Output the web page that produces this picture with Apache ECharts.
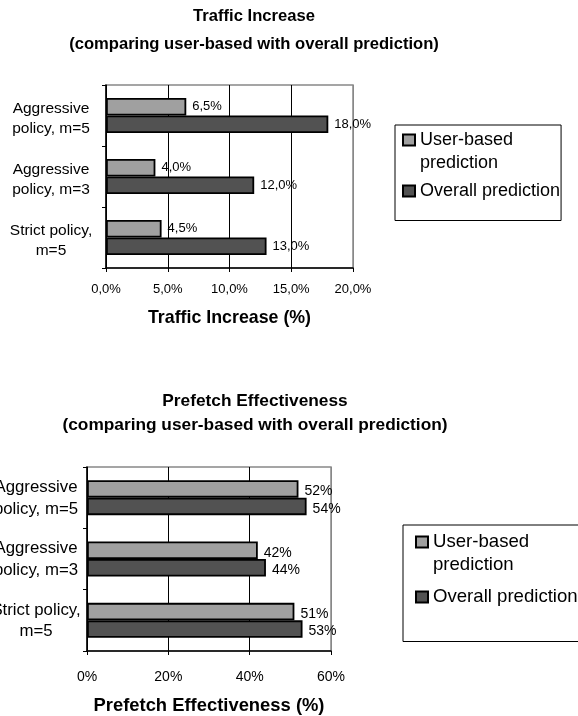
<!DOCTYPE html>
<html>
<head>
<meta charset="utf-8">
<script src="https://cdn.jsdelivr.net/npm/echarts@6/dist/echarts.min.js"></script>
<style>
html, body { margin: 0; background: #fff; }
#chart { width: 578px; height: 716px; }
</style>
</head>
<body>
<div id="chart"></div>
<script>
const categories = ['Aggressive\npolicy, m=5', 'Aggressive\npolicy, m=3', 'Strict policy,\nm=5']
const userName = 'User-based prediction'
const overallName = 'Overall prediction'

// traffic increase (%)
const trafficUser = [6.5, 4.0, 4.5]
const trafficOverall = [18.0, 12.0, 13.0]
// prefetch effectiveness (%)
const prefetchUser = [52, 42, 51]
const prefetchOverall = [54, 44, 53]

const trafficAxis = { min: 0, max: 20, interval: 5 }
const prefetchAxis = { min: 0, max: 60, interval: 20 }

const font = 'Liberation Sans, Arial, sans-serif'
const lightGray = '#a0a0a0'
const darkGray = '#525252'

const commaPct = v => v.toFixed(1).replace('.', ',') + '%'
const intPct = v => v + '%'

function valueAxis(grid, range, fmt, name, nameGap, labelSize, nameSize, splitColors, labelMargin) {
	return {
		type: 'value',
		gridIndex: grid,
		min: range.min,
		max: range.max,
		interval: range.interval,
		name: name,
		nameLocation: 'middle',
		nameGap: nameGap,
		nameTextStyle: { fontFamily: font, fontSize: nameSize, fontWeight: 'bold', color: '#000' },
		axisLine: { show: true, lineStyle: { color: '#000', width: 1.5 } },
		axisTick: { show: true, length: 4, lineStyle: { color: '#000' } },
		axisLabel: { formatter: fmt, fontFamily: font, fontSize: labelSize, color: '#000', margin: labelMargin },
		splitLine: { show: true, lineStyle: { color: splitColors, width: 1 } }
	}
}

// a thin spacer line on top nudges the two-line labels down a little
function catAxis(grid, labelSize, lineHeight, margin, shift) {
	return {
		type: 'category',
		gridIndex: grid,
		data: categories,
		inverse: true,
		axisLine: { show: true, lineStyle: { color: '#000', width: 1.5 } },
		axisTick: { show: true, length: 4, lineStyle: { color: '#000' } },
		axisLabel: {
			color: '#000', align: 'center', margin: margin,
			formatter: v => '{s| }\n' + v.split('\n').map(l => '{a|' + l + '}').join('\n'),
			rich: {
				s: { fontSize: 1, lineHeight: shift * 2 },
				a: { fontFamily: font, fontSize: labelSize, lineHeight: lineHeight, color: '#000', align: 'center' }
			}
		}
	}
}

function barSeries(name, data, axisIdx, color, fmt, labelSize, offset) {
	return {
		type: 'bar',
		name: name,
		xAxisIndex: axisIdx,
		yAxisIndex: axisIdx,
		data: data,
		barWidth: 17.5,
		barGap: 0,
		itemStyle: { color: color, borderColor: '#000', borderWidth: 1.8 },
		label: {
			show: true,
			position: 'right',
			distance: 6,
			offset: offset,
			formatter: p => fmt(p.value),
			fontFamily: font,
			fontSize: labelSize,
			color: '#000'
		}
	}
}

// leading blank line keeps the icon level with "User-based"
function legend(left, top, padding, fontSize, lineHeight, gap) {
	return {
		orient: 'vertical',
		left: left,
		top: top,
		padding: padding,
		itemWidth: 12,
		itemHeight: 11,
		itemGap: gap,
		borderColor: '#000',
		borderWidth: 1,
		icon: 'rect',
		selectedMode: false,
		formatter: n => n === userName ? '\nUser-based\nprediction' : n,
		textStyle: { fontFamily: font, fontSize: fontSize, lineHeight: lineHeight, color: '#000' },
		data: [userName, overallName]
	}
}

const chart = echarts.init(document.getElementById('chart'))

chart.setOption({
	backgroundColor: '#fff',
	animation: false,
	title: [
		{
			text: 'Traffic Increase\n(comparing user-based with overall prediction)',
			left: 254,
			top: 2,
			textAlign: 'center',
			padding: 0,
			textStyle: { fontFamily: font, fontSize: 16.6, fontWeight: 'bold', lineHeight: 28, color: '#000' }
		},
		{
			text: 'Prefetch Effectiveness\n(comparing user-based with overall prediction)',
			left: 255,
			top: 389.5,
			textAlign: 'center',
			padding: 0,
			textStyle: { fontFamily: font, fontSize: 17.3, fontWeight: 'bold', lineHeight: 23.5, color: '#000' }
		}
	],
	legend: [
		legend(395, 125, [-19.5, 1, 18, 7], 18, 23, 5),
		legend(403, 525, [-17.5, 30, 33, 12], 18.6, 23, 9)
	],
	grid: [
		{ left: 106, top: 85, width: 247, height: 183, show: true, borderColor: '#888', borderWidth: 1.5, outerBoundsMode: 'none' },
		{ left: 87, top: 467, width: 244, height: 184, show: true, borderColor: '#888', borderWidth: 1.5, outerBoundsMode: 'none' }
	],
	xAxis: [
		valueAxis(0, trafficAxis, commaPct, 'Traffic Increase (%)', 41, 13, 17.8, ['#000', '#000', '#000', '#000', '#888'], 15),
		valueAxis(1, prefetchAxis, intPct, 'Prefetch Effectiveness (%)', 46, 14, 18.4, ['#000', '#000', '#000', '#888'], 19)
	],
	yAxis: [
		catAxis(0, 15.5, 19.5, 55, 3),
		catAxis(1, 16.8, 21.7, 51, 0.5)
	],
	series: [
		barSeries(userName, trafficUser, 0, lightGray, commaPct, 13, [0, 0]),
		barSeries(overallName, trafficOverall, 0, darkGray, commaPct, 13, [0, 0]),
		barSeries(userName, prefetchUser, 1, lightGray, intPct, 14, [0, 2.5]),
		barSeries(overallName, prefetchOverall, 1, darkGray, intPct, 14, [0, 2.5])
	]
})
</script>
</body>
</html>
